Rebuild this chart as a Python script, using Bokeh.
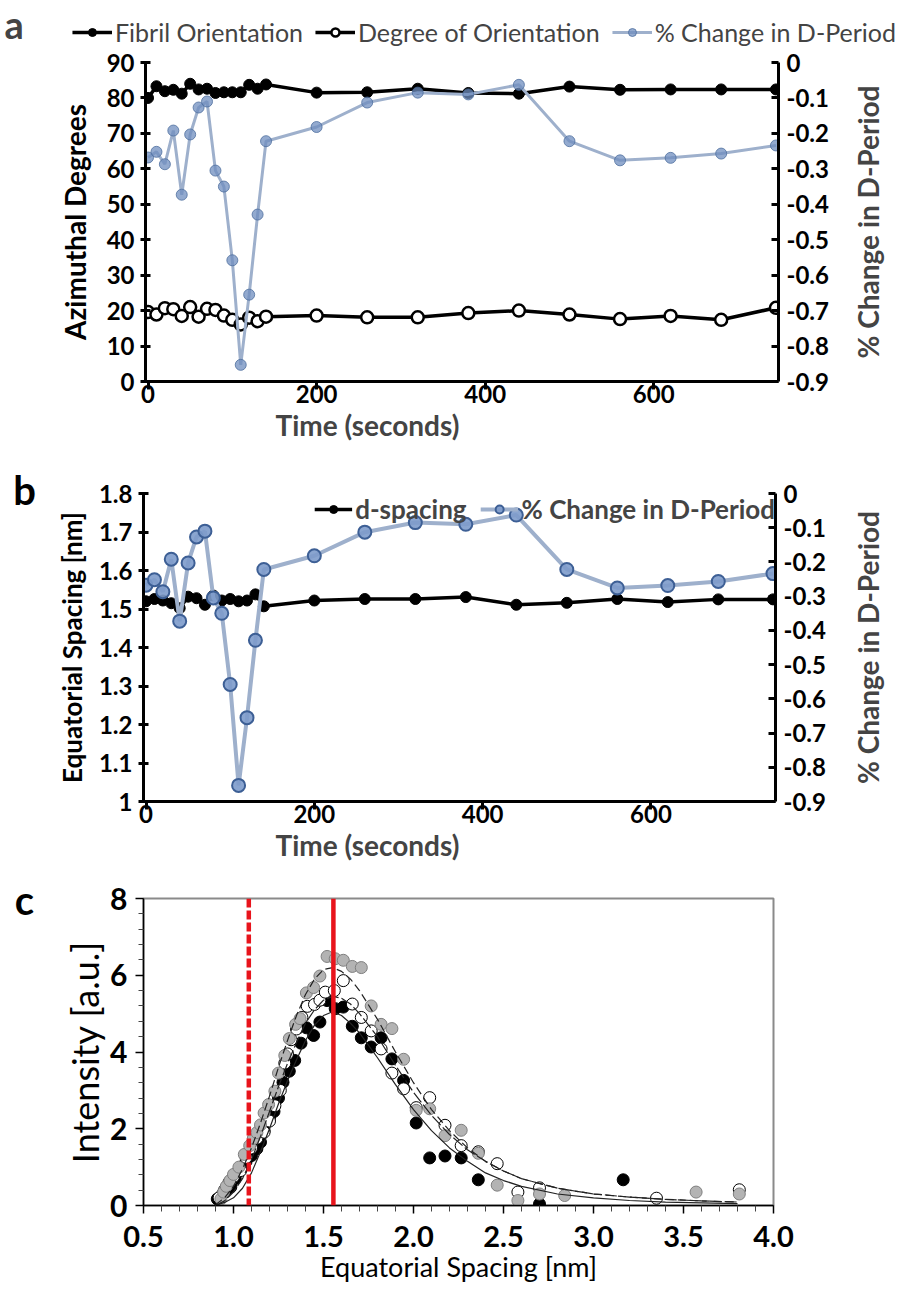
import math
from bokeh.plotting import figure
from bokeh.models import Range1d, LinearAxis, FixedTicker, Legend, LegendItem, Label, Span, Title
from bokeh.layouts import column, row
from bokeh.embed import file_html
from bokeh.resources import INLINE

FONT = "Lato"

# ---------------- data: panels a / b (time series) ----------------
time_s = [0, 10, 20, 30, 40, 50, 60, 70, 80, 90, 100, 110, 120, 130, 140,
          200, 260, 320, 380, 440, 500, 560, 620, 680, 745]
fibril_orientation = [80.0, 83.3, 81.9, 82.3, 81.2, 84.0, 82.4, 82.6, 81.4, 81.6, 81.6, 81.6, 83.7, 82.6, 83.8,
                      81.5, 81.6, 82.6, 81.4, 81.2, 83.2, 82.3, 82.4, 82.4, 82.4]
degree_of_orientation = [19.6, 18.9, 20.7, 20.4, 18.5, 21.0, 18.3, 20.5, 20.2, 18.6, 17.4, 16.1, 18.0, 17.0, 18.3,
                         18.6, 18.1, 18.1, 19.3, 20.0, 18.9, 17.6, 18.5, 17.4, 20.8]
pct_change_d_period = [-0.268, -0.252, -0.287, -0.192, -0.373, -0.203, -0.127, -0.110, -0.305, -0.350, -0.558,
                       -0.853, -0.655, -0.429, -0.222, -0.182, -0.113, -0.085, -0.090, -0.063, -0.222, -0.276,
                       -0.269, -0.257, -0.234]
d_spacing = [1.520, 1.526, 1.522, 1.515, 1.502, 1.532, 1.528, 1.511, 1.535, 1.522, 1.526, 1.520, 1.522, 1.538,
             1.507, 1.522, 1.526, 1.526, 1.531, 1.511, 1.516, 1.526, 1.518, 1.525, 1.525]

time_ticks = [0, 200, 400, 600]
azimuth_ticks = [0, 10, 20, 30, 40, 50, 60, 70, 80, 90]
pct_ticks = [0.0, -0.1, -0.2, -0.3, -0.4, -0.5, -0.6, -0.7, -0.8, -0.9]
pct_labels = ["0", "-0.1", "-0.2", "-0.3", "-0.4", "-0.5", "-0.6", "-0.7", "-0.8", "-0.9"]
eq_ticks = [1.0, 1.1, 1.2, 1.3, 1.4, 1.5, 1.6, 1.7, 1.8]
eq_labels = ["1", "1.1", "1.2", "1.3", "1.4", "1.5", "1.6", "1.7", "1.8"]

# ---------------- data: panel c (intensity profiles) ----------------
black_x = [0.91, 0.94, 0.96, 0.985, 1.01, 1.04, 1.07, 1.10, 1.13, 1.15, 1.17, 1.20, 1.225, 1.25, 1.275, 1.31,
           1.34, 1.375, 1.405, 1.445, 1.48, 1.52, 1.565, 1.61, 1.66, 1.71, 1.765, 1.82, 1.88, 1.945, 2.015,
           2.09, 2.175, 2.265, 2.36, 2.70, 3.165]
black_y = [0.17, 0.30, 0.40, 0.48, 0.70, 0.95, 1.15, 1.30, 1.48, 1.65, 1.95, 2.30, 2.45, 2.80, 3.21, 3.50,
           3.78, 4.23, 4.63, 4.43, 4.78, 5.34, 5.13, 5.17, 4.67, 4.37, 4.13, 4.37, 3.82, 3.26, 2.15,
           1.24, 1.29, 1.24, 0.67, 0.04, 0.67]
white_x = [0.92, 0.95, 0.975, 1.00, 1.04, 1.07, 1.10, 1.13, 1.17, 1.20, 1.23, 1.26, 1.285, 1.30, 1.32, 1.35,
           1.38, 1.41, 1.45, 1.48, 1.51, 1.56, 1.61, 1.66, 1.71, 1.765, 1.82, 1.88, 1.945, 2.015, 2.09, 2.175,
           2.265, 2.36, 2.465, 2.58, 2.70, 3.35, 3.81]
white_y = [0.20, 0.40, 0.60, 0.75, 0.91, 1.25, 1.50, 1.75, 1.91, 2.20, 2.60, 3.00, 3.71, 3.95, 4.32, 4.60,
           4.90, 5.19, 5.24, 5.35, 5.56, 5.60, 5.86, 5.25, 4.90, 4.55, 4.08, 3.45, 3.04, 2.55, 2.81, 2.09,
           1.56, 1.40, 1.09, 0.35, 0.46, 0.19, 0.41]
grey_x = [0.93, 0.945, 0.96, 0.98, 1.00, 1.03, 1.06, 1.09, 1.11, 1.13, 1.15, 1.17, 1.195, 1.23, 1.25, 1.285,
          1.31, 1.345, 1.37, 1.405, 1.445, 1.48, 1.52, 1.565, 1.61, 1.66, 1.71, 1.765, 1.82, 1.88, 1.945,
          2.015, 2.09, 2.175, 2.265, 2.36, 2.465, 2.58, 2.70, 2.84, 3.57, 3.81]
grey_y = [0.17, 0.35, 0.50, 0.65, 0.81, 1.00, 1.33, 1.56, 1.75, 1.90, 2.10, 2.41, 2.63, 2.98, 3.45, 3.91,
          4.35, 4.72, 4.87, 5.54, 5.68, 5.98, 6.49, 6.43, 6.39, 6.23, 6.20, 5.20, 4.72, 4.61, 3.81,
          2.48, 2.52, 1.82, 1.96, 1.36, 0.53, 0.13, 0.30, 0.26, 0.35, 0.30]
fit_x = [0.90, 0.95, 1.00, 1.05, 1.10, 1.15, 1.20, 1.25, 1.30, 1.35, 1.40, 1.45, 1.50, 1.55, 1.60, 1.65,
         1.70, 1.80, 1.90, 2.00, 2.10, 2.20, 2.30, 2.40, 2.50, 2.60, 2.80, 3.00, 3.20, 3.40, 3.60, 3.80]
fit_black = [0.0, 0.08, 0.2, 0.45, 0.85, 1.4, 2.0, 2.65, 3.25, 3.8, 4.3, 4.7, 4.95, 5.05, 4.95, 4.75,
             4.5, 3.85, 3.15, 2.5, 1.95, 1.5, 1.15, 0.85, 0.65, 0.5, 0.3, 0.2, 0.13, 0.09, 0.07, 0.05]
fit_white = [0.0, 0.12, 0.35, 0.7, 1.2, 1.8, 2.45, 3.1, 3.7, 4.25, 4.75, 5.1, 5.35, 5.45, 5.4, 5.25,
             5.0, 4.4, 3.65, 2.95, 2.35, 1.85, 1.45, 1.15, 0.9, 0.7, 0.45, 0.3, 0.22, 0.16, 0.12, 0.09]
fit_grey = [0.02, 0.2, 0.5, 0.95, 1.5, 2.15, 2.85, 3.6, 4.3, 4.95, 5.5, 5.9, 6.15, 6.2, 6.1, 5.9,
            5.6, 4.85, 4.0, 3.2, 2.5, 1.95, 1.5, 1.15, 0.9, 0.7, 0.45, 0.3, 0.22, 0.16, 0.12, 0.09]
solid_red_d = 1.555
dashed_red_d = 1.085
c_x_ticks = [0.5, 1.0, 1.5, 2.0, 2.5, 3.0, 3.5, 4.0]
c_x_labels = ["0.5", "1.0", "1.5", "2.0", "2.5", "3.0", "3.5", "4.0"]
c_x_minor = [0.6, 0.7, 0.8, 0.9, 1.1, 1.2, 1.3, 1.4, 1.6, 1.7, 1.8, 1.9, 2.1, 2.2, 2.3, 2.4, 2.6, 2.7, 2.8,
             2.9, 3.1, 3.2, 3.3, 3.4, 3.6, 3.7, 3.8, 3.9]
c_y_ticks = [0, 2, 4, 6, 8]
c_y_minor = [0.4, 0.8, 1.2, 1.6, 2.4, 2.8, 3.2, 3.6, 4.4, 4.8, 5.2, 5.6, 6.4, 6.8, 7.2, 7.6]

BLUE_LINE = "#9eb0cc"
BLUE_FILL = "#6f8dbf"
BLUE_EDGE = "#4f6f9f"
TICK_SIZE = "24px"
TITLE_SIZE = "28px"
LETTER_SIZE = "40px"


def style_axis(ax, tick_size, title_size, tick_bold=True, title_bold=True, line_width=3):
    ax.axis_line_width = line_width
    ax.axis_line_color = "black"
    ax.major_tick_line_width = line_width
    ax.major_tick_line_color = "black"
    ax.major_label_text_font = FONT
    ax.major_label_text_font_size = tick_size
    ax.major_label_text_font_style = "bold" if tick_bold else "normal"
    ax.major_label_text_color = "black"
    ax.axis_label_text_font = FONT
    ax.axis_label_text_font_size = title_size
    ax.axis_label_text_font_style = "bold" if title_bold else "normal"
    ax.axis_label_text_color = "black"


def base_fig(width, height, left, right, top, bottom, xr, yr):
    p = figure(width=width, height=height, output_backend="svg", toolbar_location=None,
               x_range=xr, y_range=yr, min_border_left=left, min_border_right=right,
               min_border_top=top, min_border_bottom=bottom)
    p.xgrid.visible = False
    p.ygrid.visible = False
    p.background_fill_color = "white"
    p.border_fill_color = "white"
    return p


def blank_fig(width, height, xr, yr):
    p = figure(width=width, height=height, output_backend="svg", toolbar_location=None,
               x_range=xr, y_range=yr, x_axis_location=None, y_axis_location=None, min_border=0)
    p.xgrid.visible = False
    p.ygrid.visible = False
    p.outline_line_color = None
    p.background_fill_color = "white"
    p.border_fill_color = "white"
    return p


def letter_fig(width, height, text, standoff):
    # panel letter drawn as the label of an empty top axis, so it can sit across the frame edge
    p = blank_fig(width, height, Range1d(0, 1), Range1d(0, 1))
    ax = LinearAxis(ticker=FixedTicker(ticks=[]), axis_label=text, axis_line_color=None,
                    major_tick_line_color=None, minor_tick_line_color=None, major_tick_out=0,
                    major_tick_in=0, minor_tick_out=0, minor_tick_in=0, major_label_standoff=0,
                    axis_label_standoff=standoff, axis_label_text_font=FONT,
                    axis_label_text_font_size=LETTER_SIZE, axis_label_text_font_style="bold",
                    axis_label_text_color="black")
    p.add_layout(ax, "above")
    return p


def side_title(width, height):
    # frame of this helper is aligned with the neighbouring plot's frame by the row layout
    p = blank_fig(width, height, Range1d(0, 1), Range1d(0, 1))
    p.add_layout(Label(x=0.5, y=0.5, text="% Change in D-Period", angle=math.pi / 2, text_font=FONT,
                       text_font_size=TITLE_SIZE, text_font_style="bold", text_align="center",
                       text_baseline="middle"))
    return p


# ======================= panel a header (letter + legend) =======================
ha = blank_fig(896, 47, Range1d(-2000, -1000), Range1d(-2000, -1000))
ha.add_layout(Label(x=4, y=23.5, x_units="screen", y_units="screen", text="a", text_font=FONT,
                    text_font_size="38px", text_font_style="bold", text_baseline="middle",
                    text_align="left"))
hl_fo = ha.line(time_s, fibril_orientation, line_color="black", line_width=3.5)
hs_fo = ha.scatter(time_s, fibril_orientation, size=11, fill_color="black", line_color="black")
hl_do = ha.line(time_s, degree_of_orientation, line_color="black", line_width=3.5)
hs_do = ha.scatter(time_s, degree_of_orientation, size=12, fill_color="white", line_color="black",
                   line_width=2.5)
hl_pc = ha.line(time_s, pct_change_d_period, line_color=BLUE_LINE, line_width=3)
hs_pc = ha.scatter(time_s, pct_change_d_period, size=11, fill_color=BLUE_FILL, fill_alpha=0.75,
                   line_color=BLUE_EDGE, line_alpha=0.8, line_width=1)
leg1 = Legend(items=[LegendItem(label="Fibril Orientation", renderers=[hl_fo, hs_fo]),
                     LegendItem(label="Degree of Orientation", renderers=[hl_do, hs_do]),
                     LegendItem(label="% Change in D-Period", renderers=[hl_pc, hs_pc])],
              orientation="horizontal", location="bottom_right", label_text_font=FONT,
              label_text_font_size="25px", label_text_font_style="normal", glyph_width=40,
              label_standoff=3, spacing=12, padding=0, margin=0, border_line_color=None,
              background_fill_alpha=0)
ha.add_layout(leg1, "center")

# ======================= panel a =======================
p1 = base_fig(838, 400, 145, 60, 15, 66, Range1d(-3, 748), Range1d(0, 90))
p1.outline_line_color = None
p1.extra_y_ranges = {"pct": Range1d(-0.9, 0)}

xa = p1.xaxis[0]
xa.ticker = FixedTicker(ticks=time_ticks)
style_axis(xa, TICK_SIZE, TITLE_SIZE)
xa.major_tick_out = 8
xa.major_tick_in = 0
xa.minor_tick_line_color = None
xa.major_label_standoff = -5
p1.add_layout(Title(text="Time (seconds)", align="left", offset=130, standoff=0, text_font=FONT,
                    text_font_size=TITLE_SIZE, text_font_style="bold"), "below")

ya = p1.yaxis[0]
ya.ticker = FixedTicker(ticks=azimuth_ticks)
ya.axis_label = "Azimuthal Degrees"
style_axis(ya, TICK_SIZE, TITLE_SIZE)
ya.major_tick_out = 5
ya.major_tick_in = 5
ya.minor_tick_line_color = None
ya.major_label_standoff = 6
ya.axis_label_standoff = 12

ra = LinearAxis(y_range_name="pct", ticker=FixedTicker(ticks=pct_ticks),
                major_label_overrides=dict(zip(pct_ticks, pct_labels)))
style_axis(ra, TICK_SIZE, TITLE_SIZE)
ra.major_tick_out = 0
ra.major_tick_in = 7
ra.minor_tick_line_color = None
ra.major_label_standoff = 8
p1.add_layout(ra, "right")

p1.line(time_s, fibril_orientation, line_color="black", line_width=3.5)
p1.scatter(time_s, fibril_orientation, size=11, fill_color="black", line_color="black")
p1.line(time_s, degree_of_orientation, line_color="black", line_width=3.5)
p1.scatter(time_s, degree_of_orientation, size=12, fill_color="white", line_color="black", line_width=2.5)
p1.line(time_s, pct_change_d_period, y_range_name="pct", line_color=BLUE_LINE, line_width=3)
p1.scatter(time_s, pct_change_d_period, y_range_name="pct", size=11, fill_color=BLUE_FILL,
           fill_alpha=0.75, line_color=BLUE_EDGE, line_alpha=0.8, line_width=1)

rt_a = side_title(58, 400)

# ======================= panel b =======================
lb = letter_fig(48, 420, "b", -20)

p2 = base_fig(790, 420, 95, 63, 46, 66, Range1d(-3, 748), Range1d(1.0, 1.8))
p2.outline_line_color = None
p2.extra_y_ranges = {"pct": Range1d(-0.9, 0)}

xb = p2.xaxis[0]
xb.ticker = FixedTicker(ticks=time_ticks)
style_axis(xb, TICK_SIZE, TITLE_SIZE)
xb.major_tick_out = 8
xb.major_tick_in = 0
xb.minor_tick_line_color = None
xb.major_label_standoff = -5
p2.add_layout(Title(text="Time (seconds)", align="left", offset=132, standoff=0, text_font=FONT,
                    text_font_size=TITLE_SIZE, text_font_style="bold"), "below")

yb = p2.yaxis[0]
yb.ticker = FixedTicker(ticks=eq_ticks)
yb.major_label_overrides = dict(zip(eq_ticks, eq_labels))
yb.axis_label = "Equatorial Spacing [nm]"
style_axis(yb, TICK_SIZE, "26px")
yb.major_tick_out = 5
yb.major_tick_in = 5
yb.minor_tick_line_color = None
yb.major_label_standoff = 6
yb.axis_label_standoff = 8

rb = LinearAxis(y_range_name="pct", ticker=FixedTicker(ticks=pct_ticks),
                major_label_overrides=dict(zip(pct_ticks, pct_labels)))
style_axis(rb, TICK_SIZE, TITLE_SIZE)
rb.major_tick_out = 0
rb.major_tick_in = 7
rb.minor_tick_line_color = None
rb.major_label_standoff = 8
p2.add_layout(rb, "right")

l_ds = p2.line(time_s, d_spacing, line_color="black", line_width=3.5)
s_ds = p2.scatter(time_s, d_spacing, size=11, fill_color="black", line_color="black")
l_pb = p2.line(time_s, pct_change_d_period, y_range_name="pct", line_color=BLUE_LINE, line_width=4)
s_pb = p2.scatter(time_s, pct_change_d_period, y_range_name="pct", size=13, fill_color="#7d9bcb",
                  fill_alpha=0.9, line_color="#3d5f95", line_width=2)

leg2 = Legend(items=[LegendItem(label="d-spacing", renderers=[l_ds, s_ds]),
                     LegendItem(label="% Change in D-Period", renderers=[l_pb, s_pb])],
              orientation="horizontal", location="top_right", label_text_font=FONT,
              label_text_font_size="26px", label_text_font_style="bold", glyph_width=38,
              label_standoff=3, spacing=14, padding=0, margin=0, border_line_color=None,
              background_fill_alpha=0)
p2.add_layout(leg2, "center")

rt_b = side_title(58, 420)

# ======================= panel c =======================
lc = letter_fig(48, 425, "c", -25)

p3 = base_fig(848, 425, 95, 123, 31, 87, Range1d(0.5, 4.0), Range1d(0, 8))
p3.outline_line_color = "#8a8a8a"
p3.outline_line_width = 2

xc = p3.xaxis[0]
xc.ticker = FixedTicker(ticks=c_x_ticks, minor_ticks=c_x_minor)
xc.major_label_overrides = dict(zip(c_x_ticks, c_x_labels))
xc.axis_label = "Equatorial Spacing [nm]"
style_axis(xc, "29px", "27px", tick_bold=True, title_bold=False, line_width=1.5)
xc.major_tick_out = 8
xc.major_tick_in = 0
xc.minor_tick_out = 6
xc.minor_tick_in = 0
xc.minor_tick_line_width = 1
xc.minor_tick_line_color = "#444444"
xc.major_label_standoff = 12
xc.axis_label_standoff = 0

yc = p3.yaxis[0]
yc.ticker = FixedTicker(ticks=c_y_ticks, minor_ticks=c_y_minor)
yc.axis_label = "Intensity [a.u.]"
style_axis(yc, "30px", "36px", tick_bold=True, title_bold=False, line_width=1.5)
yc.major_tick_out = 8
yc.major_tick_in = 0
yc.minor_tick_out = 5
yc.minor_tick_in = 0
yc.minor_tick_line_width = 1
yc.minor_tick_line_color = "#444444"
yc.major_label_standoff = 8
yc.axis_label_standoff = 0

p3.add_layout(Span(location=dashed_red_d, dimension="height", line_color="#e8141c", line_width=4.5,
                   line_dash="9 3"))
p3.add_layout(Span(location=solid_red_d, dimension="height", line_color="#e8141c", line_width=4.5))

p3.scatter(black_x, black_y, size=12, fill_color="black", line_color="black", line_width=1)
p3.scatter(white_x, white_y, size=12, fill_color="white", line_color="black", line_width=1)
p3.scatter(grey_x, grey_y, size=12, fill_color="#b3b3b3", line_color="#7f7f7f", line_width=1)
p3.line(fit_x, fit_black, line_color="#222222", line_width=1.2)
p3.line(fit_x, fit_white, line_color="#222222", line_width=1.2, line_dash="12 3")
p3.line(fit_x, fit_grey, line_color="#222222", line_width=1.2, line_dash="8 4")

layout = column(ha, row(p1, rt_a, spacing=0), row(lb, p2, rt_b, spacing=0), row(lc, p3, spacing=0),
                spacing=0)
open("out.html", "w").write(file_html(layout, INLINE))
